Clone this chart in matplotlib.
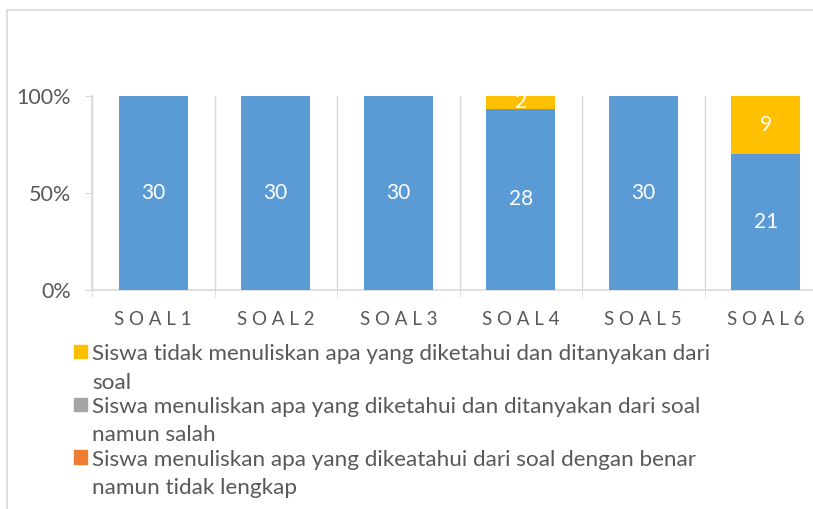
import matplotlib.pyplot as plt
from matplotlib.lines import Line2D
from matplotlib.patches import Patch, Rectangle
from matplotlib.legend_handler import HandlerPatch

plt.rcParams["font.family"] = ["Lato", "DejaVu Sans"]

categories = ["SOAL1", "SOAL2", "SOAL3", "SOAL4", "SOAL5", "SOAL6"]
benar_lengkap = [30, 30, 30, 28, 30, 21]
tidak_lengkap = [0, 0, 0, 0, 0, 0]
salah = [0, 0, 0, 0, 0, 0]
tidak_menulis = [0, 0, 0, 2, 0, 9]

labels = [
    "Siswa menuliskan apa yang diketahui dan ditanyakan dari soal dengan benar dan lengkap",
    "Siswa menuliskan apa yang dikeatahui dari soal dengan benar\nnamun tidak lengkap",
    "Siswa menuliskan apa yang diketahui dan ditanyakan dari soal\nnamun salah",
    "Siswa tidak menuliskan apa yang diketahui dan ditanyakan dari\nsoal",
]
colors = ["#5B9BD5", "#ED7D31", "#A5A5A5", "#FFC000"]
series = [benar_lengkap, tidak_lengkap, salah, tidak_menulis]

fig = plt.figure(figsize=(8.13, 5.09), dpi=100)
ax = fig.add_axes([92 / 813, 219 / 509, 735 / 813, 194 / 509])

totals = [sum(v) for v in zip(*series)]
x = list(range(len(categories)))
bottom = [0.0] * len(categories)
for vals, col in zip(series, colors):
    frac = [v / t for v, t in zip(vals, totals)]
    ax.bar(x, frac, width=0.56, bottom=bottom, color=col, zorder=3)
    for i, (v, f) in enumerate(zip(vals, frac)):
        if v > 0:
            ax.text(i, bottom[i] + f / 2, str(v), ha="center", va="center",
                    color="white", fontsize=15, zorder=4)
    bottom = [b + f for b, f in zip(bottom, frac)]

ax.set_xlim(-0.5, 5.5)
ax.set_ylim(0, 1)
ax.set_yticks([0, 0.5, 1])
ax.set_yticklabels(["0%", "50%", "100%"], fontsize=15.5, color="#595959")
ax.set_xticks(x)
ax.set_xticklabels([" ".join(c) for c in categories], fontsize=13.5, color="#595959")
ax.set_xticks([i + 0.5 for i in range(-1, 6)], minor=True)
ax.tick_params(axis="x", which="major", length=0, pad=15)
ax.tick_params(axis="x", which="minor", length=5, color="#D9D9D9")
ax.tick_params(axis="y", length=5, color="#D9D9D9", pad=10)
ax.grid(axis="x", which="minor", color="#D9D9D9", linewidth=1, zorder=0)

for s in ["top", "right"]:
    ax.spines[s].set_visible(False)
for s in ["left", "bottom"]:
    ax.spines[s].set_color("#D9D9D9")
    ax.spines[s].set_linewidth(1.2)

# outer chart frame (cropped: only top and left edges visible)
top_y = 1 - 10 / 509
left_x = 7 / 813
fig.add_artist(Line2D([left_x, 1], [top_y, top_y], transform=fig.transFigure,
                      color="#D9D9D9", linewidth=1.2))
fig.add_artist(Line2D([left_x, left_x], [0, top_y], transform=fig.transFigure,
                      color="#D9D9D9", linewidth=1.2))


def top_square(legend, orig_handle, xdescent, ydescent, width, height, fontsize):
    # put the legend square next to the first line of a two-line label
    return Rectangle((-xdescent, -ydescent + 0.75 * fontsize), width, height)


handles = [Patch(color=colors[i]) for i in [3, 2, 1]]
leg = fig.legend(handles, [labels[i] for i in [3, 2, 1]], loc="upper left",
                 bbox_to_anchor=(54 / 813, 1 - 324 / 509), frameon=False, fontsize=16.2,
                 labelcolor="#595959", handlelength=0.55, handleheight=0.55,
                 handletextpad=0.25, labelspacing=0.2,
                 handler_map={Patch: HandlerPatch(patch_func=top_square)})
for t in leg.get_texts():
    t.set_linespacing(1.52)

fig.savefig("out.png", dpi=100)
